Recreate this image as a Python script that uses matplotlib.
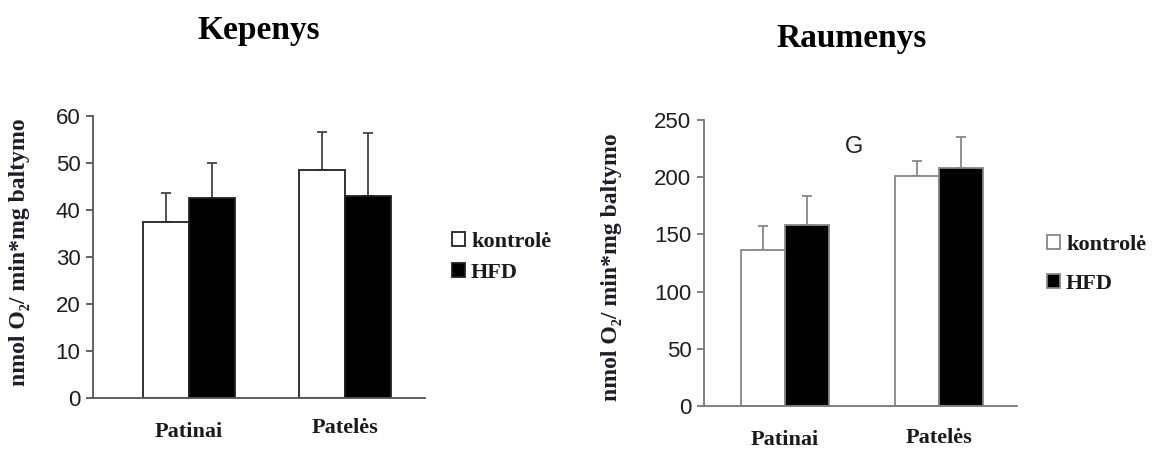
import matplotlib
matplotlib.use('Agg')
import numpy as np
from matplotlib import pyplot as plt

# vidutinės reikšmės ir standartiniai nuokrypiai
grupes = ['Patinai', 'Patelės']
serijos = ['kontrolė', 'HFD']

kepenys_kontrole = [37.5, 48.5]
kepenys_kontrole_sd = [6.1, 8.1]
kepenys_hfd = [42.5, 43.0]
kepenys_hfd_sd = [7.5, 13.4]

raumenys_kontrole = [136, 201]
raumenys_kontrole_sd = [21, 13]
raumenys_hfd = [158, 208]
raumenys_hfd_sd = [26, 27]

W, H = 1157, 449
serif = ['Liberation Serif', 'DejaVu Serif']
sans = ['Liberation Sans', 'DejaVu Sans']

fig = plt.figure(figsize=(W / 100, H / 100), dpi=100)


def px_axes(x0, x1, ytop, ybot):
    return fig.add_axes([x0 / W, 1 - ybot / H, (x1 - x0) / W, (ybot - ytop) / H])


def draw(ax, kontrole, k_sd, hfd, h_sd, ymax, ystep, xlim, plotis, ax_color, edge, err_color, label_y):
    x = np.arange(len(grupes))
    b1 = ax.bar(x - plotis / 2, kontrole, plotis, color='white', edgecolor=edge, linewidth=1.3, zorder=2)
    b2 = ax.bar(x + plotis / 2, hfd, plotis, color='black', edgecolor=edge, linewidth=1.3, zorder=2)
    ax.errorbar(x - plotis / 2, kontrole, yerr=[np.zeros(2), k_sd], fmt='none',
                ecolor=err_color, elinewidth=1.3, capsize=3.5, capthick=1.3, zorder=1)
    ax.errorbar(x + plotis / 2, hfd, yerr=[np.zeros(2), h_sd], fmt='none',
                ecolor=err_color, elinewidth=1.3, capsize=3.5, capthick=1.3, zorder=1)
    ax.set_xlim(*xlim)
    ax.set_ylim(0, ymax)
    ax.set_yticks(np.arange(0, ymax + 1, ystep))
    ax.set_xticks([])
    for s in ['top', 'right']:
        ax.spines[s].set_visible(False)
    for s in ['left', 'bottom']:
        ax.spines[s].set_color(ax_color)
        ax.spines[s].set_linewidth(1.3)
    ax.tick_params(axis='y', direction='out', length=5, width=1.3, color=ax_color,
                   labelsize=16, labelcolor='#1e1e1e', pad=4)
    for t in ax.get_yticklabels():
        t.set_family(sans)
    for xi, g, ly in zip(x, grupes, label_y):
        ax.text(xi, ly, g, transform=ax.get_xaxis_transform(), ha='center', va='center',
                family=serif, weight='bold', fontsize=16, color='#1a1a1a')
    return b1, b2


ax1 = px_axes(93, 425, 116, 398)
h1 = draw(ax1, kepenys_kontrole, kepenys_kontrole_sd, kepenys_hfd, kepenys_hfd_sd,
          60, 10, (-0.615, 1.513), 0.295, '#555555', '#222222', '#444444', (-0.12, -0.105))

ax2 = px_axes(704, 1017, 120, 406)
h2 = draw(ax2, raumenys_kontrole, raumenys_kontrole_sd, raumenys_hfd, raumenys_hfd_sd,
          250, 50, (-0.526, 1.506), 0.286, '#777777', '#888888', '#888888', (-0.12, -0.112))
ax2.text(0.45, 226, 'G', ha='center', va='center', family=sans, fontsize=17, color='#222222')

fig.text(259 / W, 1 - 30 / H, 'Kepenys', ha='center', va='center',
         family=serif, weight='bold', fontsize=24, color='black')
fig.text(852 / W, 1 - 38 / H, 'Raumenys', ha='center', va='center',
         family=serif, weight='bold', fontsize=24, color='black')

ylab = 'nmol O₂/ min*mg baltymo'
fig.text(20 / W, 1 - 252 / H, ylab, rotation=90, ha='center', va='center',
         family=serif, weight='bold', fontsize=17, color='#1c1c2a')
fig.text(612 / W, 1 - 267 / H, ylab, rotation=90, ha='center', va='center',
         family=serif, weight='bold', fontsize=17, color='#1c1c2a')

for handles, (lx, ly), sp in [(h1, (441, 221), 0.5), (h2, (1036, 224), 0.85)]:
    leg = fig.legend(handles, serijos, loc='upper left', bbox_to_anchor=(lx / W, 1 - ly / H),
                     frameon=False, handlelength=0.6, handleheight=0.6, handletextpad=0.25,
                     labelspacing=sp, borderpad=0,
                     prop={'family': serif, 'weight': 'bold', 'size': 16})
    for t in leg.get_texts():
        t.set_color('#1a1a1a')

fig.savefig('out.png', dpi=100)
